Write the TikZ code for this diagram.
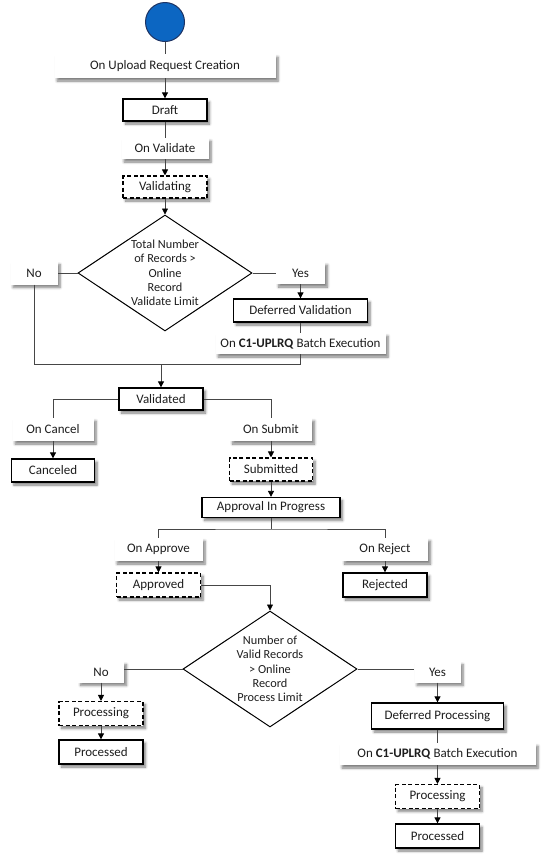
\documentclass[tikz,border=0pt]{standalone}
\usepackage{fontspec}
\setmainfont{Carlito}
\usetikzlibrary{arrows.meta,shapes.geometric,shadows.blur}
\definecolor{startfill}{RGB}{12,102,194}
\definecolor{startdraw}{RGB}{30,52,100}
\definecolor{txt}{RGB}{30,30,30}
\definecolor{linec}{RGB}{70,70,70}
\tikzset{
  shd/.style={blur shadow={shadow xshift=2.5pt,shadow yshift=-3pt,shadow blur radius=2.5pt,shadow blur steps=6,shadow opacity=50}},
  lab/.style={fill=white,inner sep=0pt,text=txt,font=\fontsize{13}{15}\selectfont,shd},
  state/.style={lab,draw=black,line width=1.3pt},
  dstate/.style={lab,draw=black,line width=1.1pt,dash pattern=on 4pt off 2.5pt},
  decide/.style={diamond,draw=black,line width=1pt,inner sep=-16pt,minimum width=174pt,minimum height=116pt,aspect=1.5,align=center,text=txt,font=\fontsize{12.3}{14.3}\selectfont},
  conn/.style={draw=linec,line width=0.8pt},
  arr/.style={conn,-{Triangle[length=6pt,width=6pt,color=black]}},
}
\begin{document}
\begin{tikzpicture}[x=1pt,y=-1pt]
\useasboundingbox (0,0) rectangle (549,860);
% top column
\node[circle,fill=startfill,draw=startdraw,line width=1pt,minimum size=39pt,inner sep=0pt] (start) at (165,22) {};
\node[lab,minimum width=221pt,minimum height=24pt] (lab1) at (165,66) {On Upload Request Creation};
\node[state,minimum width=84pt,minimum height=22pt] (draft) at (165,110) {Draft};
\node[lab,minimum width=87pt,minimum height=21pt] (lab2) at (165,148.5) {On Validate};
\node[dstate,minimum width=84pt,minimum height=22pt] (validating) at (165,187) {Validating};
\node[decide] (dia1) at (165,273) {Total Number\\of Records \textgreater\\Online\\Record\\Validate Limit};
\node[lab,minimum width=47pt,minimum height=23pt] (no1) at (34,273) {No};
\node[lab,minimum width=49pt,minimum height=22pt] (yes1) at (300.5,273) {Yes};
\node[state,minimum width=134pt,minimum height=23pt] (defval) at (300.5,310.5) {Deferred Validation};
\node[lab,minimum width=170pt,minimum height=21pt] (batch1) at (300.5,343.5) {On \textbf{C1-UPLRQ} Batch Execution};
\coordinate (j1) at (34,364);
\node[state,minimum width=84pt,minimum height=22pt] (validated) at (161,399) {Validated};
% validated branches
\node[lab,minimum width=81pt,minimum height=23pt] (cancel) at (53,429.5) {On Cancel};
\node[state,minimum width=83pt,minimum height=23pt] (canceled) at (53,470.5) {Canceled};
\node[lab,minimum width=82pt,minimum height=23pt] (submit) at (271,429.5) {On Submit};
\node[dstate,minimum width=83pt,minimum height=23pt] (submitted) at (271,469.5) {Submitted};
\node[state,minimum width=138pt,minimum height=20pt] (approval) at (271,507.5) {Approval In Progress};
\coordinate (b2) at (271,529);
\node[lab,minimum width=88pt,minimum height=23pt] (approve) at (158.5,549.5) {On Approve};
\node[lab,minimum width=86pt,minimum height=23pt] (reject) at (385,549.5) {On Reject};
\node[dstate,minimum width=84pt,minimum height=24pt] (approved) at (158.5,585) {Approved};
\node[state,minimum width=84pt,minimum height=24pt] (rejected) at (385,585) {Rejected};
% second decision
\node[decide] (dia2) at (270,669) {Number of\\Valid Records\\\textgreater{} Online\\Record\\Process Limit};
\node[lab,minimum width=46pt,minimum height=21pt] (no2) at (101,672) {No};
\node[lab,minimum width=46pt,minimum height=21pt] (yes2) at (437.5,672) {Yes};
\node[dstate,minimum width=84pt,minimum height=24pt] (proc1) at (101,713.5) {Processing};
\node[state,minimum width=84pt,minimum height=24pt] (processed1) at (101,752) {Processed};
\node[state,minimum width=132pt,minimum height=26pt] (defproc) at (437.5,716) {Deferred Processing};
\node[lab,minimum width=196pt,minimum height=22pt] (batch2) at (437.5,754) {On \textbf{C1-UPLRQ} Batch Execution};
\node[dstate,minimum width=84pt,minimum height=24pt] (proc2) at (437.5,796.5) {Processing};
\node[state,minimum width=84pt,minimum height=24pt] (processed2) at (437.5,836) {Processed};
% connectors
\draw[conn] (start.south) -- (lab1.north);
\draw[arr] (lab1.south) -- (draft.north);
\draw[conn] (draft.south) -- (lab2.north);
\draw[arr] (lab2.south) -- (validating.north);
\draw[arr] (validating.south) -- (dia1.north);
\draw[conn] (dia1.west) -- (no1.east);
\draw[conn] (dia1.east) -- (yes1.west);
\draw[arr] (yes1.south) -- (defval.north);
\draw[conn] (defval.south) -- (batch1.north);
\draw[conn] (no1.south) -- (j1) -- (j1 -| batch1.south) -- (batch1.south);
\draw[arr] (j1 -| validated.north) -- (validated.north);
\draw[conn] (validated.west) -| (cancel.north);
\draw[arr] (cancel.south) -- (canceled.north);
\draw[conn] (validated.east) -| (submit.north);
\draw[arr] (submit.south) -- (submitted.north);
\draw[arr] (submitted.south) -- (approval.north);
\draw[conn] (approval.south) -- (b2);
\draw[conn] (approve.north) |- (b2) -| (reject.north);
\draw[arr] (approve.south) -- (approved.north);
\draw[arr] (reject.south) -- (rejected.north);
\draw[arr] (approved.east) -| (dia2.north);
\draw[conn] (dia2.west) -- (dia2.west -| no2.east);
\draw[conn] (dia2.east) -- (dia2.east -| yes2.west);
\draw[arr] (no2.south) -- (proc1.north);
\draw[arr] (proc1.south) -- (processed1.north);
\draw[arr] (yes2.south) -- (defproc.north);
\draw[conn] (defproc.south) -- (batch2.north);
\draw[arr] (batch2.south) -- (proc2.north);
\draw[arr] (proc2.south) -- (processed2.north);
\end{tikzpicture}
\end{document}
